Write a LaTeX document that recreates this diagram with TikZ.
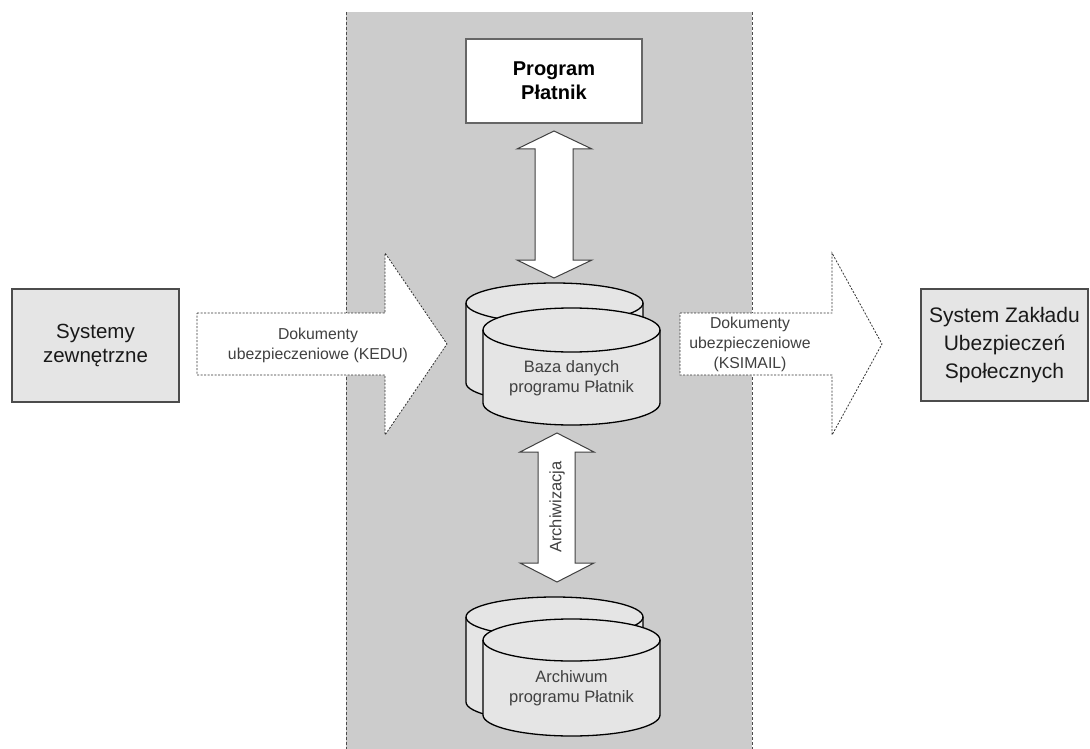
\documentclass[tikz,border=0pt]{standalone}
\usepackage{fontspec}
\setmainfont{Liberation Sans}
\begin{document}
\begin{tikzpicture}[x=1pt,y=-1pt,
  panel/.style={fill=black!20},
  panelline/.style={draw=black!70,line width=0.8pt,dash pattern=on 3pt off 2pt},
  sysbox/.style={draw=black!70,line width=1.1pt,fill=black!10},
  progbox/.style={draw=black!60,line width=1.1pt,fill=white},
  cyl/.style={draw=black,line width=1.3pt,fill=black!10},
  dblarrow/.style={draw=black!75,line width=1pt,fill=white},
  flowarrow/.style={draw=black!80,line width=0.8pt,dash pattern=on 2pt off 1.5pt,fill=white},
  bigtxt/.style={font=\fontsize{20.5}{24}\selectfont,align=center,text=black!90},
  smalltxt/.style={font=\fontsize{15.8}{20}\selectfont,align=center,text=black!75},
  cyltxt/.style={font=\fontsize{16.5}{20}\selectfont,align=center,text=black!75}
]
\useasboundingbox (0,0) rectangle (1090,749);
\fill[white] (0,0) rectangle (1090,749);
% central panel
\fill[panel] (346,12) rectangle (752,749);
\draw[panelline] (346,12) -- (346,749);
\draw[panelline] (752,12) -- (752,749);

% Program Platnik
\node[progbox,minimum width=176pt,minimum height=84pt,inner sep=0pt] (prog) at (554,81) {};
\node[bigtxt,font=\fontsize{20}{24}\selectfont\bfseries,text=black] (progtxt) at (prog.center) {Program\\Płatnik};

% top double arrow
\draw[dblarrow] (554,131) -- (592,149) -- (573,149) -- (573,260) -- (592,260) -- (554,278)
  -- (517,260) -- (535,260) -- (535,149) -- (517,149) -- cycle;

% database cylinders
\newcommand\mycylinder[5]{% cx, topc, botc, rx, ry
  \filldraw[cyl] (#1-#4,#2) -- (#1-#4,#3) arc[start angle=180,end angle=360,x radius=#4pt,y radius=#5pt]
    -- (#1+#4,#2) arc[start angle=0,end angle=180,x radius=#4pt,y radius=#5pt] -- cycle;
  \draw[cyl,fill=none] (#1-#4,#2) arc[start angle=180,end angle=360,x radius=#4pt,y radius=#5pt];
}
\mycylinder{554.5}{303}{383}{88.5}{20}
\mycylinder{571.5}{330}{403}{88.5}{22}
\node[cyltxt] (db) at (571.5,378) {Baza danych\\programu Płatnik};

% Archiwizacja arrow
\draw[dblarrow] (557,433) -- (594,452) -- (575,452) -- (575,563) -- (594,563) -- (557,582)
  -- (520,563) -- (538,563) -- (538,452) -- (520,452) -- cycle;
\node[cyltxt,rotate=90] (arch) at (557,507) {Archiwizacja};

% archive cylinders
\mycylinder{554.5}{617}{702}{88.5}{20}
\mycylinder{571.5}{640}{715}{88.5}{21}
\node[cyltxt] (archiv) at (571.5,688) {Archiwum\\programu Płatnik};

% Systemy zewnetrzne
\node[sysbox,minimum width=167pt,minimum height=113pt,inner sep=0pt] (sys) at (95.5,345.5) {};
\node[bigtxt] (systxt) at (sys.center) {Systemy\\zewnętrzne};

% ZUS
\node[sysbox,minimum width=167pt,minimum height=112pt,inner sep=0pt] (zus) at (1004.5,345) {};
\node[bigtxt,font=\fontsize{21}{28}\selectfont] (zustxt) at (zus.center) {System Zakładu\\Ubezpieczeń\\Społecznych};

% KEDU arrow
\draw[flowarrow] (197,313) -- (385,313) -- (385,253) -- (447,344) -- (385,435) -- (385,375) -- (197,375) -- cycle;
\node[smalltxt] (kedu) at (318,345) {Dokumenty\\ubezpieczeniowe (KEDU)};

% KSIMAIL arrow
\draw[flowarrow] (680,313) -- (832,313) -- (832,253) -- (882,344) -- (832,435) -- (832,375) -- (680,375) -- cycle;
\node[smalltxt] (ksi) at (750,344) {Dokumenty\\ubezpieczeniowe\\(KSIMAIL)};
\end{tikzpicture}
\end{document}
